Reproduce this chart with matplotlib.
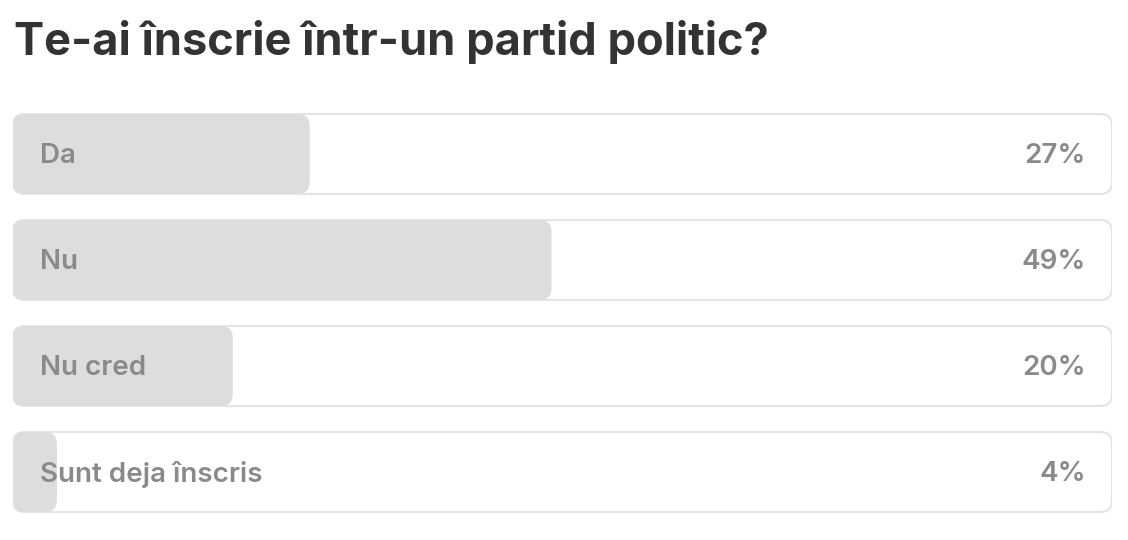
import matplotlib
matplotlib.use("Agg")
import matplotlib.pyplot as plt
from matplotlib.patches import FancyBboxPatch

# poll data
title = "Te-ai înscrie într-un partid politic?"
options = ["Da", "Nu", "Nu cred", "Sunt deja înscris"]
percents = [27, 49, 20, 4]

W, H = 1128, 540
track_left, track_width = 13, 1099
row_top, row_h, row_step = 114, 80, 106
radius_px = 12

fig = plt.figure(figsize=(W / 100, H / 100), dpi=100)
fig.patch.set_facecolor("white")

ax = fig.add_axes([track_left / W, 0, track_width / W, 1])
ax.set_xlim(0, 100)
ax.set_ylim(H, 0)
ax.set_axis_off()

px_per_x = track_width / 100.0
r = radius_px / px_per_x

for i, (opt, pct) in enumerate(zip(options, percents)):
    y0 = row_top + i * row_step
    track = FancyBboxPatch((0, y0), 100, row_h,
                           boxstyle=f"round,pad=0,rounding_size={r}",
                           mutation_aspect=px_per_x,
                           facecolor="white", edgecolor="#e4e4e4", lw=1.5)
    ax.add_patch(track)
    fill = FancyBboxPatch((0, y0), pct, row_h,
                          boxstyle=f"round,pad=0,rounding_size={r}",
                          mutation_aspect=px_per_x,
                          facecolor="#dddddd", edgecolor="none")
    ax.add_patch(fill)
    yc = y0 + row_h / 2 - 1
    ax.text(27 / px_per_x, yc, opt, ha="left", va="center_baseline",
            fontsize=20, fontfamily="Inter", fontweight="semibold",
            color="#8a8a8a")
    ax.text(100 - 26 / px_per_x, yc, f"{pct}%", ha="right", va="center_baseline",
            fontsize=20, fontfamily="Inter", fontweight="semibold",
            color="#8a8a8a")

fig.text(14 / W, 1 - 55 / H, title, ha="left", va="baseline",
         fontsize=32.5, fontfamily="Inter", fontweight="bold", color="#333333")

plt.savefig("out.png", dpi=100)
